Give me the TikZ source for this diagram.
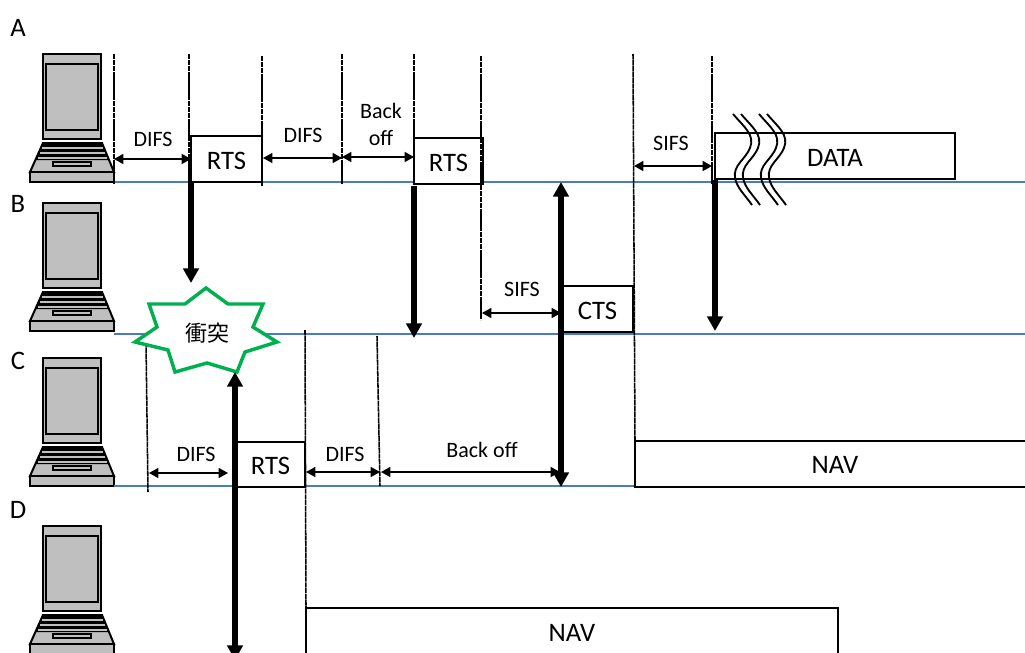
\documentclass[tikz,border=0pt]{standalone}
\usepackage{fontspec}
\setmainfont{Carlito}
\newfontfamily\cjk{Noto Sans CJK JP}
\usetikzlibrary{arrows.meta}
\definecolor{wireblue}{HTML}{4A7EBB}
\definecolor{pcgray}{HTML}{BFBFBF}
\definecolor{stargreen}{HTML}{00B050}
\newcommand{\lowered}[1]{\raisebox{-1.2pt}[\height][0pt]{#1}}
\tikzset{
  big/.style={font=\fontsize{20}{22}\selectfont,inner sep=0pt},
  small/.style={font=\fontsize{16.5}{20.25}\selectfont,inner sep=0pt,align=center},
  frame/.style={draw=black,line width=1.5pt,fill=white,inner sep=0pt,font=\fontsize{20}{22}\selectfont},
  wire/.style={draw=wireblue,line width=1.1pt},
  tick/.style={draw=black,line width=1.15pt,dash pattern=on 4pt off 0.4pt},
  span/.style={draw=black,line width=1.1pt,{Triangle[length=7pt,width=7.5pt]}-{Triangle[length=7pt,width=7.5pt]}},
  signal/.style={draw=black,line width=3.9pt,-{Triangle[length=11pt,width=11.5pt]}},
  signals/.style={draw=black,line width=3.9pt,{Triangle[length=11pt,width=11.5pt]}-{Triangle[length=11pt,width=11.5pt]}},
  wavy/.style={draw=black,line width=1.4pt},
  breakwave/.pic={
    \draw[wavy] (0,0) .. controls (12,14) and (22,21) .. (17,34)
      .. controls (12,46) and (0,51) .. (2,64)
      .. controls (4,74) and (12,81) .. (19,91);
  },
  laptop/.pic={
    \begin{scope}[draw=black,line join=miter]
      \path[fill=pcgray,draw,line width=1.4pt] (13,0) rectangle (71,85);
      \path[fill=pcgray,draw,line width=1.9pt] (16,10) rectangle (68,76);
      \path[fill=pcgray,draw,line width=1.5pt] (13,89) -- (72,89) -- (84,118) -- (0,118) -- cycle;
      \path[fill=black] (13,89) -- (72,89) -- (79,106) -- (5.5,106) -- cycle;
      \path[draw=pcgray,line width=1pt] (12,94) -- (73,94) (10,99) -- (75,99) (8,104) -- (77,104);
      \path[fill=pcgray,draw,line width=1.2pt] (23,108) rectangle (61,112);
      \path[fill=pcgray,draw,line width=1.8pt] (0,118) rectangle (84,128);
    \end{scope}
  }
}
\begin{document}
\begin{tikzpicture}[x=0.75pt,y=-0.75pt]
\useasboundingbox (0,0) rectangle (1025,653);
\clip (0,0) rectangle (1025,653);

% station labels
\node[big] (lA) at (18,28) {A};
\node[big] (lB) at (18,204) {B};
\node[big] (lC) at (18,361) {C};
\node[big] (lD) at (18,510) {D};

% computers
\pic at (30,54) {laptop};
\pic at (30,203) {laptop};
\pic at (30,358) {laptop};
\pic at (30,526) {laptop};

% channel lines
\coordinate (wa0) at (114,182); \coordinate (wa1) at (1025,182);
\coordinate (wb0) at (114,334); \coordinate (wb1) at (1025,334);
\coordinate (wc0) at (114,486); \coordinate (wc1) at (1025,486);
\draw[wire] (wa0) -- (wa1);
\draw[wire] (wb0) -- (wb1);
\draw[wire] (wc0) -- (wc1);

% frames
\node[frame,minimum width=53.25pt,minimum height=34.5pt] (rtsA) at (226.5,159) {\lowered{RTS}};
\node[frame,minimum width=51.75pt,minimum height=34.5pt] (rtsB) at (448.5,161) {\lowered{RTS}};
\node[frame,minimum width=180pt,minimum height=34.5pt] (data) at (835,156) {};
\node[big] (dataT) at (835,158) {DATA};
\node[frame,minimum width=53.25pt,minimum height=34.5pt] (cts) at (597.5,309) {\lowered{CTS}};
\node[frame,minimum width=51.75pt,minimum height=33.75pt] (rtsC) at (270.5,464.5) {\lowered{RTS}};
\draw[frame] (635,441) rectangle (1045,487);
\node[big] (navC) at (835,464.5) {NAV};
\draw[frame] (306,608) rectangle (838,680);
\node[big] (navD) at (572,633) {NAV};

% timing ticks
\coordinate (t1a) at (114,54);  \coordinate (t1b) at (114,184);
\coordinate (t2a) at (189,54);  \coordinate (t2b) at (189,184);
\coordinate (t3a) at (262,56);  \coordinate (t3b) at (262,186);
\coordinate (t4a) at (342,54);  \coordinate (t4b) at (342,184);
\coordinate (t5a) at (414,54);  \coordinate (t5b) at (414,138);
\coordinate (t6a) at (481,56);  \coordinate (t6b) at (481,320);
\coordinate (t7a) at (633,54);  \coordinate (t7b) at (635,441);
\coordinate (t8a) at (712,56);  \coordinate (t8b) at (712,184);
\coordinate (t9a) at (146,342); \coordinate (t9b) at (148,492);
\coordinate (t10a) at (305,330); \coordinate (t10b) at (306,608);
\coordinate (t11a) at (377,336); \coordinate (t11b) at (380,486);
\draw[tick] (t1a) -- (t1b);
\draw[tick] (t2a) -- (t2b);
\draw[tick] (t3a) -- (t3b);
\draw[tick] (t4a) -- (t4b);
\draw[tick] (t5a) -- (t5b);
\draw[tick] (t6a) -- (t6b);
\draw[tick] (t7a) -- (t7b);
\draw[tick] (t8a) -- (t8b);
\draw[tick] (t9a) -- (t9b);
\draw[tick] (t10a) -- (t10b);
\draw[tick] (t11a) -- (t11b);

% data break marks
\pic at (733,114) {breakwave};
\pic at (741,114) {breakwave};
\pic at (759,114) {breakwave};
\pic at (767,114) {breakwave};

% interval arrows
\coordinate (s1a) at (114,159); \coordinate (s1b) at (191,159);
\coordinate (s2a) at (263,158); \coordinate (s2b) at (342,158);
\coordinate (s3a) at (342,157); \coordinate (s3b) at (414,157);
\coordinate (s4a) at (634,166); \coordinate (s4b) at (712,166);
\coordinate (s5a) at (482,313); \coordinate (s5b) at (561,313);
\coordinate (s6a) at (149,473); \coordinate (s6b) at (228,473);
\coordinate (s7a) at (306,472); \coordinate (s7b) at (380,472);
\coordinate (s8a) at (381,472); \coordinate (s8b) at (560,472);
\draw[span] (s1a) -- (s1b);
\draw[span] (s2a) -- (s2b);
\draw[span] (s3a) -- (s3b);
\draw[span] (s4a) -- (s4b);
\draw[span] (s5a) -- (s5b);
\draw[span] (s6a) -- (s6b);
\draw[span] (s7a) -- (s7b);
\draw[span] (s8a) -- (s8b);

\node[small] (d1) at (153,139) {DIFS};
\node[small] (d2) at (303,135) {DIFS};
\node[small] (bo1) at (381,124) {Back\\off};
\node[small] (si1) at (671,143) {SIFS};
\node[small] (si2) at (522,289) {SIFS};
\node[small] (d3) at (196,454) {DIFS};
\node[small] (d4) at (345,454) {DIFS};
\node[small] (bo2) at (482,450) {Back off};

% signal arrows
\coordinate (a1a) at (191,182); \coordinate (a1b) at (191,283);
\coordinate (a2a) at (414,186); \coordinate (a2b) at (414,338);
\coordinate (a3a) at (561,182); \coordinate (a3b) at (561,487);
\coordinate (a4a) at (715,180); \coordinate (a4b) at (715,331);
\coordinate (a5a) at (235,372); \coordinate (a5b) at (235,660);
\draw[signal] (a1a) -- (a1b);
\draw[signal] (a2a) -- (a2b);
\draw[signals] (a3a) -- (a3b);
\draw[signal] (a4a) -- (a4b);

% collision
\draw[draw=stargreen,line width=2.6pt,fill=white,line join=miter,miter limit=10]
  (206,288) -- (228,304) -- (263,304) -- (253,327) -- (277,342) -- (245,352) -- (237,372)
  -- (207,363) -- (175,372) -- (168,350) -- (135,342) -- (157,327) -- (149,304) -- (185,304) -- cycle;
\node[inner sep=0pt,font=\cjk\fontsize{16.5}{20}\selectfont] (clash) at (207,333) {衝突};
\draw[signals] (a5a) -- (a5b);
\end{tikzpicture}
\end{document}
